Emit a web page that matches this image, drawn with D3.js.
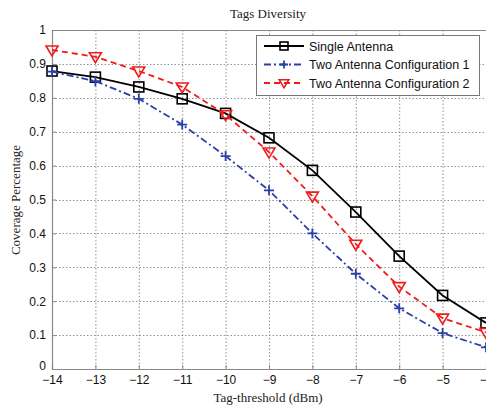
<!DOCTYPE html>
<html><head><meta charset="utf-8">
<script src="https://cdn.jsdelivr.net/npm/d3@7"></script>
<style>body{margin:0;background:#fff;}svg{display:block;}</style>
</head><body>
<svg id="chart" width="486" height="407"></svg>
<script>
const thresholds = [-14,-13,-12,-11,-10,-9,-8,-7,-6,-5,-4];
const singleAntenna = [0.879,0.861,0.832,0.797,0.754,0.682,0.586,0.463,0.333,0.217,0.136];
const twoAntenna1 = [0.877,0.849,0.797,0.721,0.628,0.527,0.400,0.281,0.179,0.106,0.064];
const twoAntenna2 = [0.941,0.921,0.879,0.832,0.750,0.640,0.510,0.368,0.243,0.150,0.108];
const xTicks = [-14,-13,-12,-11,-10,-9,-8,-7,-6,-5,-4];
const yTicks = [0,0.1,0.2,0.3,0.4,0.5,0.6,0.7,0.8,0.9,1];
const seriesNames = ["Single Antenna","Two Antenna Configuration 1","Two Antenna Configuration 2"];

const svg = d3.select("#chart");
const L = 52, R = 486, T = 30, B = 369;
const x = d3.scaleLinear().domain([-14,-4]).range([L,R]);
const y = d3.scaleLinear().domain([0,1]).range([B,T]);

// grid
const grid = svg.append("g");
grid.selectAll("line.vx").data(xTicks.slice(1)).join("line")
  .attr("x1",d=>x(d)+0.5).attr("x2",d=>x(d)+0.5).attr("y1",T).attr("y2",B)
  .attr("stroke","#777").attr("stroke-width",0.8).attr("stroke-dasharray","1.5,2");
grid.selectAll("line.hy").data(yTicks.slice(1)).join("line")
  .attr("y1",d=>Math.round(y(d))+0.5).attr("y2",d=>Math.round(y(d))+0.5).attr("x1",L).attr("x2",R)
  .attr("stroke","#777").attr("stroke-width",0.8).attr("stroke-dasharray","1.5,2");

// axes
const xAxis = svg.append("g").attr("transform",`translate(0,${B})`)
  .call(d3.axisBottom(x).tickValues(xTicks).tickSize(-4).tickPadding(6).tickFormat(d3.format("d")));
const yAxis = svg.append("g").attr("transform",`translate(${L},0)`)
  .call(d3.axisLeft(y).tickValues(yTicks).tickSize(-4).tickPadding(6).tickFormat(d=>d===0||d===1?String(d):d.toFixed(1)));
[xAxis,yAxis].forEach(a=>{
  a.select(".domain").attr("stroke","#888").attr("stroke-width",1.2);
  a.selectAll(".tick line").attr("stroke","#888");
  a.selectAll("text").attr("font-family","Liberation Sans, Arial, sans-serif").attr("font-size",12).attr("fill","#111");
});
yAxis.selectAll(".tick").filter(d=>d===0).select("text").attr("dy","0.05em");
// top border
svg.append("line").attr("x1",L).attr("x2",R).attr("y1",T+0.5).attr("y2",T+0.5).attr("stroke","#888").attr("stroke-width",1);

svg.append("defs").append("clipPath").attr("id","clip").append("rect")
  .attr("x",L-10).attr("y",T-10).attr("width",R-L+10).attr("height",B-T+20);

const series = [
  {name:seriesNames[0], vals:singleAntenna, color:"#000", dash:null, marker:"square"},
  {name:seriesNames[1], vals:twoAntenna1, color:"#2b3fa8", dash:"7,3,2,3", marker:"plus"},
  {name:seriesNames[2], vals:twoAntenna2, color:"#f01c1c", dash:"6,4", marker:"tri"}
];
const line = d3.line().x(d=>x(d[0])).y(d=>y(d[1]));
const plotG = svg.append("g").attr("clip-path","url(#clip)");

function drawMarker(g, type, cx, cy, color, s){
  s = s || 5;
  if(type==="square"){
    g.append("rect").attr("x",cx-s).attr("y",cy-s).attr("width",2*s).attr("height",2*s)
      .attr("fill","none").attr("stroke",color).attr("stroke-width",1.6);
  } else if(type==="plus"){
    g.append("path").attr("d",`M${cx-s},${cy}H${cx+s}M${cx},${cy-s}V${cy+s}`)
      .attr("stroke",color).attr("stroke-width",1.8);
  } else {
    const k = s*1.2;
    g.append("path").attr("d",`M${cx-k},${cy-k*0.67}L${cx+k},${cy-k*0.67}L${cx},${cy+k}Z`)
      .attr("fill","none").attr("stroke",color).attr("stroke-width",1.6);
  }
}

series.forEach(s=>{
  const pts = thresholds.map((t,i)=>[t,s.vals[i]]);
  plotG.append("path").datum(pts).attr("d",line).attr("fill","none")
    .attr("stroke",s.color).attr("stroke-width",1.8).attr("stroke-dasharray",s.dash);
  pts.forEach(p=>drawMarker(plotG,s.marker,x(p[0]),y(p[1]),s.color));
});

// legend
const lg = svg.append("g");
lg.append("rect").attr("x",256.5).attr("y",35.5).attr("width",223).attr("height",60)
  .attr("fill","#fff").attr("stroke","#777").attr("stroke-width",1);
series.forEach((s,i)=>{
  const ly = 46 + i*18.5;
  lg.append("line").attr("x1",264).attr("x2",304).attr("y1",ly).attr("y2",ly)
    .attr("stroke",s.color).attr("stroke-width",1.8).attr("stroke-dasharray",s.dash);
  drawMarker(lg,s.marker,284,ly,s.color,4);
  lg.append("text").attr("x",309).attr("y",ly+4.5).text(s.name)
    .attr("font-family","Liberation Sans, Arial, sans-serif").attr("font-size",12.5).attr("fill","#111");
});

// titles
svg.append("text").attr("x",268).attr("y",18).attr("text-anchor","middle").text("Tags Diversity")
  .attr("font-family","Liberation Serif, Times New Roman, serif").attr("font-size",13).attr("fill","#222");
svg.append("text").attr("x",268).attr("y",402).attr("text-anchor","middle").text("Tag-threshold (dBm)")
  .attr("font-family","Liberation Serif, Times New Roman, serif").attr("font-size",13).attr("fill","#222");
svg.append("text").attr("transform","translate(20,200) rotate(-90)").attr("text-anchor","middle").text("Coverage Percentage")
  .attr("font-family","Liberation Serif, Times New Roman, serif").attr("font-size",13).attr("fill","#222");
</script>
</body></html>
